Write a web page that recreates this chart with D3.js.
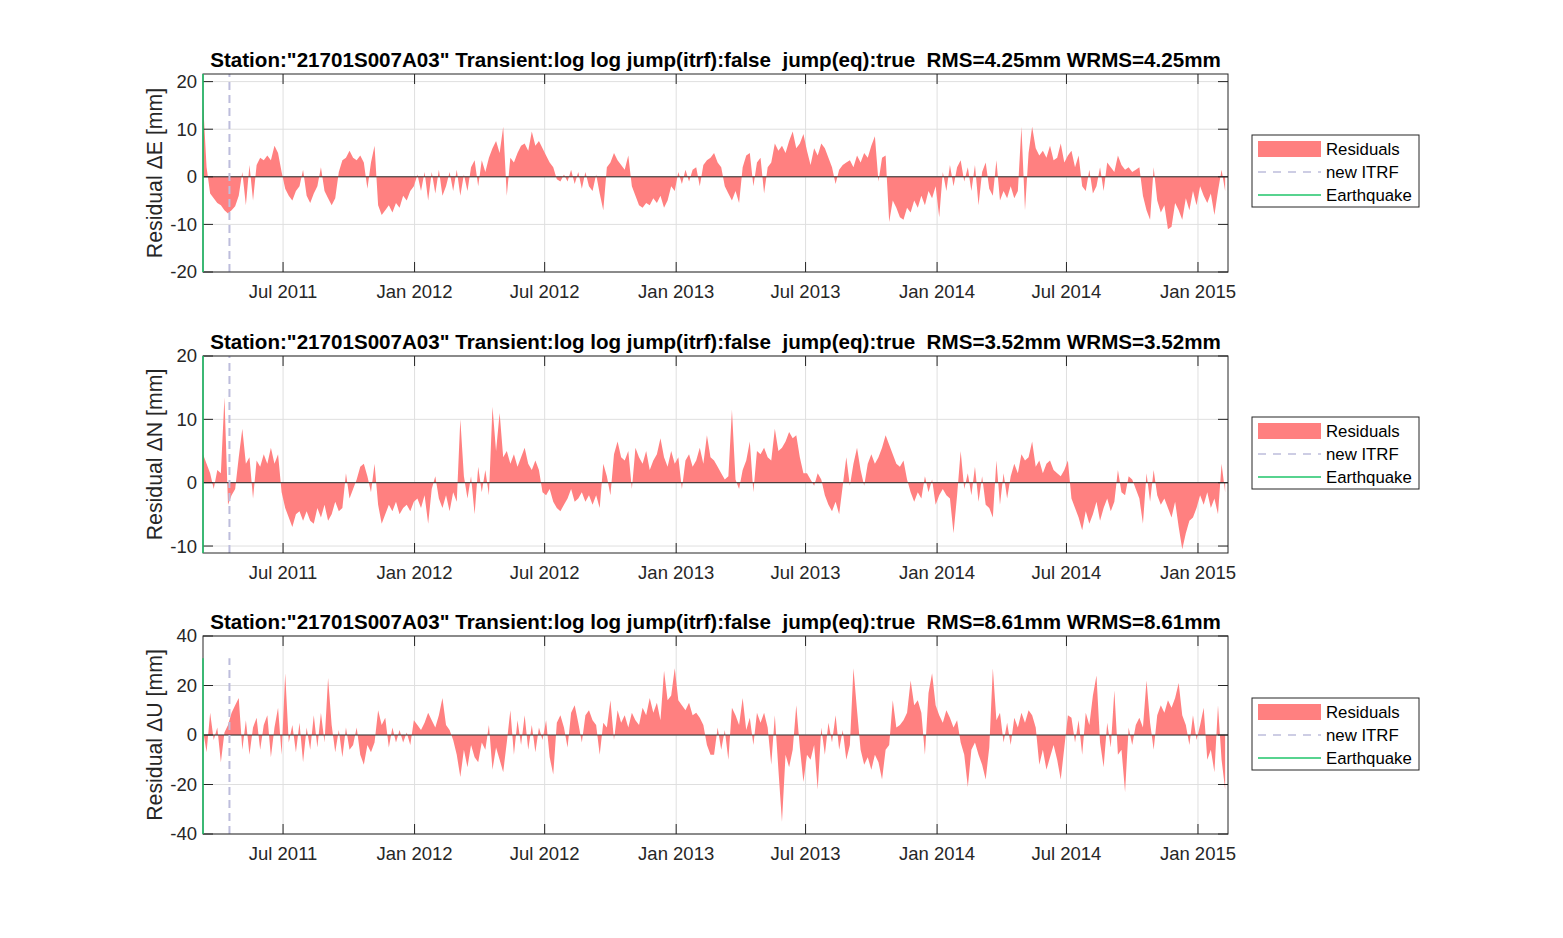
<!DOCTYPE html>
<meta charset="utf-8">

<!-- Load d3.js -->
<script src="https://d3js.org/d3.v7.min.js"></script>
<style>
  body { margin: 0; background: #fff; }
  svg { display: block; }
  text { font-family: "Liberation Sans", Arial, Helvetica, sans-serif; }
</style>
<div id="residual_viz"></div>

<script>

// station info and summary statistics
var station = "21701S007A03";
var components = ["E", "N", "U"];
var rmsValues = [4.25, 3.52, 8.61];
var wrmsValues = [4.25, 3.52, 8.61];

// time axis: residuals every 5 days from the earthquake on
var startDate = "2011-03-11";
var endDate = "2015-02-12";
var stepDays = 5;
var eqDate = "2011-03-11";
var itrfDate = "2011-04-17";
var xTickDates = ["2011-07-01", "2012-01-01", "2012-07-01", "2013-01-01",
                  "2013-07-01", "2014-01-01", "2014-07-01", "2015-01-01"];

// y limits and ticks per component
var yLimE = [-20, 21.6], yLimN = [-11.1, 20], yLimU = [-40, 40];
var yTicksE = [-20, -10, 0, 10, 20];
var yTicksN = [-10, 0, 10, 20];
var yTicksU = [-40, -20, 0, 20, 40];
// vertical extent of the ITRF / earthquake markers
var markerSpanE = [-20, 21.6], markerSpanN = [-11.1, 20], markerSpanU = [-40, 31];

// residuals [mm]
var resE = [
  16, 2, -3.5, -4.5, -5.5, -6, -7, -7.7, -7, -6.2,
  -4, 1, -6, 2.5, -5, 2.5, 4, 3.5, 4.5, 3.5,
  6.5, 5, 1, -2.5, -4, -5, -3, -2, 1.5, -4,
  -5.5, -3.5, -2, 2, -3, -4.5, -6, -4.5, 1, 3.5,
  4, 5.5, 4, 3.5, 4.5, 3, -2.5, 3, 6.5, -6,
  -8, -7, -6, -7.5, -5.5, -6.5, -4, -5, -3, -2,
  0.5, -3, 1, -5, 1, -3.5, 1.5, -4, -2, 1,
  -3, 1.5, -4, 0.5, -3, 2, 3.5, -2, 3.5, 1,
  4, 6, 7.5, 5, 10.5, -4, 4, 3, 5, 6.5,
  7, 5.5, 9.5, 6.5, 7.5, 6, 4.5, 3, 2, -0.5,
  -1, 0.5, -1, 1.5, -1.5, 1, -2.5, 1, -2, -3,
  0.5, -3.5, -7, 2, 3, 5, 3.5, 2.5, 1.5, 4.5,
  -2, -4, -6, -6.5, -5.5, -6, -4.5, -5.5, -4, -6.5,
  -5, -2, -3, 1, -1.5, 1.5, -1, 1.5, 2, -2,
  2.5, 3.5, 4, 5, 3, 2, -2, -3.5, -5, -3,
  -5.5, 2, 4.5, 5, -2, 3, 4, -3.5, 2, 3,
  7, 5.5, 6.5, 5, 7.5, 9.5, 6, 7, 9, 5.5,
  2.5, 6, 4.5, 7, 6, 4, 2, -1.5, 1.5, 2.5,
  3, 3.5, 2, 4.5, 3, 5, 4, 6.5, 8.5, -1,
  4, 4.5, -9.5, -5, -6.5, -8.5, -9, -6.5, -7.5, -5,
  -6.5, -4, -6, -3, -4.5, -2, -8.5, 1, -3, 2.5,
  -2, 2, 3.5, -1, 2, -3, 2.5, -6, 1, 3,
  -2.5, -4, 3.5, -5, -3, -4.5, -2, -4.5, -3, 10.5,
  -7, 5, 10.5, 6, 4.5, 5.5, 4, 6.5, 3.5, 4,
  7, 3, 4.5, 5.5, 2, 4.5, -2, -3, 1.5, -3.5,
  -2, 2, -3, 3, 2, 1, 4.5, 2.5, 1.5, 2,
  1, 1.5, 2, -4, -7, -9, 2, -5, -7.5, -6,
  -11, -10.5, -5.5, -7, -9, -4.5, -7, -3, -6, -2,
  -4, -5.5, -3.5, -8, -3, 1.5, -3
];

var resN = [
  4.5, 3, 1.5, -1, 2, 1.5, 13.5, -3.5, -2, -1,
  4, 8.5, 3, 4, -2.5, 3.5, 2.5, 4.5, 3, 5.5,
  3, 4.5, -1.5, -4, -5.5, -7, -5, -4.5, -6, -4.5,
  -6, -6.5, -4, -5.5, -3.5, -6, -5, -3, -4.5, -4,
  1.5, -2.5, -1, 0.5, 2.5, 3, 1, -1.5, 3, -3.5,
  -6.5, -5, -3.5, -4.5, -3, -5, -4, -3.5, -4.5, -3,
  -2.5, -4, -2, -6.5, -1, 1, -2.5, -4, -2, -4.5,
  -1.5, -3, 10, 1, -2.5, 1, -5, 2.5, -1.5, 2,
  -2, 12, 5, 11, 4, 5, 3, 4.5, 2.5, 4,
  5.5, 3, 2, 3.5, 2, -1.5, -2, -1, -3, -4,
  -4.5, -3.5, -2.5, -1, -3, -2.5, -1.5, -3, -2, -3.5,
  -2, -4, 3, 1, -2, 4.5, 6.5, 4, 3.5, 5,
  -1, 5.5, 4, 3, 5, 2, 3.5, 4.5, 7, 4,
  2.5, 5, 3, 4, -1, 3.5, 4.5, 2.5, 3.5, 5.5,
  3, 7.5, 4, 3.5, 2.5, 1.5, 0.5, 1, 11.5, 0.5,
  -1, 2, 3.5, 6.5, -1.5, 5, 4.5, 5.5, 4, 3.5,
  8.5, 5, 5.5, 6.5, 8, 7, 7.5, 4, 1.5, 1.5,
  0.5, -0.5, 1.5, 0.5, -2, -3.5, -4.5, -3, -5, -0.5,
  4, -0.5, 3, 5.5, 2, -0.5, 3, 4.5, 3, 4,
  5.5, 7.5, 6, 4.5, 3, 2.5, 3.5, 0.5, -1.5, -3,
  -1.5, -2.5, 1, -1.5, 0.5, -3.5, -2, -1, -2, -2.5,
  -8, -2, 5, -1, 1.5, -2, 2.5, -3, 1, -3.5,
  -4, -5.5, 3.5, -3.5, 1.5, -2.5, 1, 3, 1.5, 4.5,
  3.5, 4, 6.5, 2.5, 3.5, 1.5, 3, 3.5, 2, 1.5,
  1, 2, 3.5, -2.5, -4, -5.5, -7.5, -4.5, -6.5, -5,
  -3, -6, -4, -2.5, -4.5, -3, 2, -1.5, -2, 1,
  0.5, -1, -2.5, -6.5, 1.5, -3, 2, -2, -3.5, -2.5,
  -4, -5.5, -3, -7, -10.5, -8, -6, -5.5, -4, -2,
  -3.5, -1.5, -4, -2.5, -5, 3, -1.5
];

var resU = [
  2, -7, 9, -2, 3, -11, 1, 4, 9, 12,
  15, -6, 6, -8, 3, 7, -6, 4, 8, -9,
  3, 11, -8, 25, -3, 4, -7, 5, -11, 3,
  -6, 8, -5, 9, -3, 23, 4, -7, 2, -9,
  3, -6, -4, 3, -8, -12, -4, -7, -3, 10,
  4, 7, -5, 3, -3, 2, -3, 1, -4, 6,
  4, 2, 5, 9, 6, 3, 8, 15, 4, 2,
  -2, -8, -17, -6, -13, -4, -9, -11, -3, -6,
  4, -14, -5, -10, -15, -3, 10, -8, 6, -4,
  8, -6, 4, -7, 3, -2, 6, -9, -16, 5,
  8, 3, -5, 9, 12, 5, -3, 8, 10, 6,
  4, -8, 5, 3, 14, -2, 10, 5, 8, 3,
  9, 6, 4, 11, 8, 15, 9, 13, 6, 26,
  14, 16, 27, 14, 12, 10, 13, 8, 9, 7,
  4, -4, -8, -8, 3, -6, 2, -10, 11, 8,
  4, 15, 2, 7, -4, 9, 5, 9, 3, -12,
  8, -14, -35, -8, -13, -6, 12, -5, -19, -8,
  -10, -4, -22, 3, -8, 5, -3, 8, -6, 2,
  -10, -4, 27, 10, -6, -12, -9, -14, -8, -11,
  -18, -6, -4, 14, 3, 4, 6, 9, 22, 12,
  14, 9, -8, 17, 25, 12, 8, 5, 10, 7,
  3, 6, -3, -8, -21, -6, -3, -8, -12, -18,
  -5, 27, 6, 9, -3, 5, -4, 7, 3, 9,
  5, 10, 8, 3, -12, -6, -14, -9, -4, -10,
  -18, -5, 8, 7, -3, 6, -8, 9, 4, 16,
  24, -3, -13, 5, -5, 18, -8, -6, -23, 3,
  -4, 4, 7, 3, 22, 5, -6, 8, 12, 9,
  14, 11, 15, 21, 8, 4, -4, 8, -2, 4,
  11, -10, -6, -15, 12, -10, -22
];

var legendLabels = ["Residuals", "new ITRF", "Earthquake"];

// set the dimensions of the page and the three axes
var width = 1563, height = 938;
var plotLeft = 203, plotRight = 1228;
var panelTops = [74, 356, 636];
var panelBottoms = [272, 553, 834];
var legendTops = [135, 417, 698];

var resColor = "#ff8080",
    itrfColor = "#bdbddc",
    eqColor = "#1fc46a",
    axisColor = "#262626",
    gridColor = "#dfdfdf";

var parseDate = d3.timeParse("%Y-%m-%d");
var t0 = parseDate(startDate);

var panels = [
  {comp: components[0], res: resE, ylim: yLimE, ticks: yTicksE, span: markerSpanE},
  {comp: components[1], res: resN, ylim: yLimN, ticks: yTicksN, span: markerSpanN},
  {comp: components[2], res: resU, ylim: yLimU, ticks: yTicksU, span: markerSpanU}
];

var svg = d3.select("#residual_viz")
  .append("svg")
    .attr("width", width)
    .attr("height", height);

var x = d3.scaleTime()
  .domain([parseDate(startDate), parseDate(endDate)])
  .range([plotLeft, plotRight]);

var xTicks = xTickDates.map(parseDate);
var fmt = d3.timeFormat("%b %Y");

panels.forEach(function(p, k) {
  var top = panelTops[k], bottom = panelBottoms[k];
  var y = d3.scaleLinear().domain(p.ylim).range([bottom, top]);
  var g = svg.append("g");

  var clipId = "clip" + k;
  svg.append("clipPath").attr("id", clipId)
    .append("rect")
      .attr("x", plotLeft).attr("y", top)
      .attr("width", plotRight - plotLeft).attr("height", bottom - top);

  // grid
  g.selectAll(".xgrid").data(xTicks).enter().append("line")
    .attr("x1", function(d) { return x(d); }).attr("x2", function(d) { return x(d); })
    .attr("y1", top).attr("y2", bottom)
    .attr("stroke", gridColor).attr("stroke-width", 1);
  g.selectAll(".ygrid").data(p.ticks).enter().append("line")
    .attr("x1", plotLeft).attr("x2", plotRight)
    .attr("y1", function(d) { return y(d); }).attr("y2", function(d) { return y(d); })
    .attr("stroke", gridColor).attr("stroke-width", 1);

  // residual area
  var data = p.res.map(function(v, i) {
    return {date: d3.timeDay.offset(t0, i * stepDays), value: v};
  });
  g.append("path")
    .datum(data)
    .attr("clip-path", "url(#" + clipId + ")")
    .attr("fill", resColor)
    .attr("d", d3.area()
      .x(function(d) { return x(d.date); })
      .y0(y(0))
      .y1(function(d) { return y(d.value); }));

  // baseline
  g.append("line")
    .attr("x1", plotLeft).attr("x2", plotRight)
    .attr("y1", y(0)).attr("y2", y(0))
    .attr("stroke", axisColor).attr("stroke-width", 1);

  // new ITRF marker
  g.append("line")
    .attr("x1", x(parseDate(itrfDate))).attr("x2", x(parseDate(itrfDate)))
    .attr("y1", y(p.span[0])).attr("y2", y(p.span[1]))
    .attr("stroke", itrfColor).attr("stroke-width", 2)
    .attr("stroke-dasharray", "8,5");

  // axes box with inward ticks on all sides
  g.append("rect")
    .attr("x", plotLeft).attr("y", top)
    .attr("width", plotRight - plotLeft).attr("height", bottom - top)
    .attr("fill", "none").attr("stroke", axisColor).attr("stroke-width", 1);

  xTicks.forEach(function(d) {
    g.append("line").attr("x1", x(d)).attr("x2", x(d))
      .attr("y1", bottom).attr("y2", bottom - 10).attr("stroke", axisColor);
    g.append("line").attr("x1", x(d)).attr("x2", x(d))
      .attr("y1", top).attr("y2", top + 10).attr("stroke", axisColor);
    g.append("text")
      .attr("x", x(d)).attr("y", bottom + 26)
      .attr("text-anchor", "middle")
      .style("font-size", "18.5px").attr("fill", axisColor)
      .text(fmt(d));
  });

  p.ticks.forEach(function(d) {
    g.append("line").attr("x1", plotLeft).attr("x2", plotLeft + 10)
      .attr("y1", y(d)).attr("y2", y(d)).attr("stroke", axisColor);
    g.append("line").attr("x1", plotRight).attr("x2", plotRight - 10)
      .attr("y1", y(d)).attr("y2", y(d)).attr("stroke", axisColor);
    g.append("text")
      .attr("x", plotLeft - 6).attr("y", y(d)).attr("dy", "0.35em")
      .attr("text-anchor", "end")
      .style("font-size", "18.5px").attr("fill", axisColor)
      .text(d);
  });

  // earthquake marker
  g.append("line")
    .attr("x1", x(parseDate(eqDate))).attr("x2", x(parseDate(eqDate)))
    .attr("y1", y(p.span[0])).attr("y2", y(p.span[1]))
    .attr("stroke", eqColor).attr("stroke-width", 1.5);

  // y label
  g.append("text")
    .attr("transform", "translate(155," + ((top + bottom) / 2) + ") rotate(-90)")
    .attr("dy", "0.35em")
    .attr("text-anchor", "middle")
    .style("font-size", "21.3px").attr("fill", axisColor)
    .text("Residual \u0394" + p.comp + " [mm]");

  // title
  g.append("text")
    .attr("x", (plotLeft + plotRight) / 2).attr("y", top - 7)
    .attr("text-anchor", "middle")
    .style("font-size", "20.6px").style("font-weight", "bold")
    .style("white-space", "pre")
    .text("Station:\"" + station + "\" Transient:log log jump(itrf):false  jump(eq):true  RMS=" +
          rmsValues[k].toFixed(2) + "mm WRMS=" + wrmsValues[k].toFixed(2) + "mm");

  // legend
  var lt = legendTops[k];
  var lg = svg.append("g").attr("transform", "translate(1252," + lt + ")");
  lg.append("rect").attr("width", 167).attr("height", 72)
    .attr("fill", "#fff").attr("stroke", axisColor).attr("stroke-width", 1);
  lg.append("rect").attr("x", 6).attr("y", 6).attr("width", 63).attr("height", 16)
    .attr("fill", resColor);
  lg.append("line").attr("x1", 6).attr("x2", 69).attr("y1", 37).attr("y2", 37)
    .attr("stroke", itrfColor).attr("stroke-width", 1.5).attr("stroke-dasharray", "8,7");
  lg.append("line").attr("x1", 6).attr("x2", 69).attr("y1", 60).attr("y2", 60)
    .attr("stroke", eqColor).attr("stroke-width", 1.5);
  lg.selectAll("text").data(legendLabels).enter().append("text")
    .attr("x", 74).attr("y", function(d, i) { return 14 + i * 23; })
    .attr("dy", "0.35em")
    .style("font-size", "16.8px").attr("fill", "#000")
    .text(function(d) { return d; });
});

</script>
